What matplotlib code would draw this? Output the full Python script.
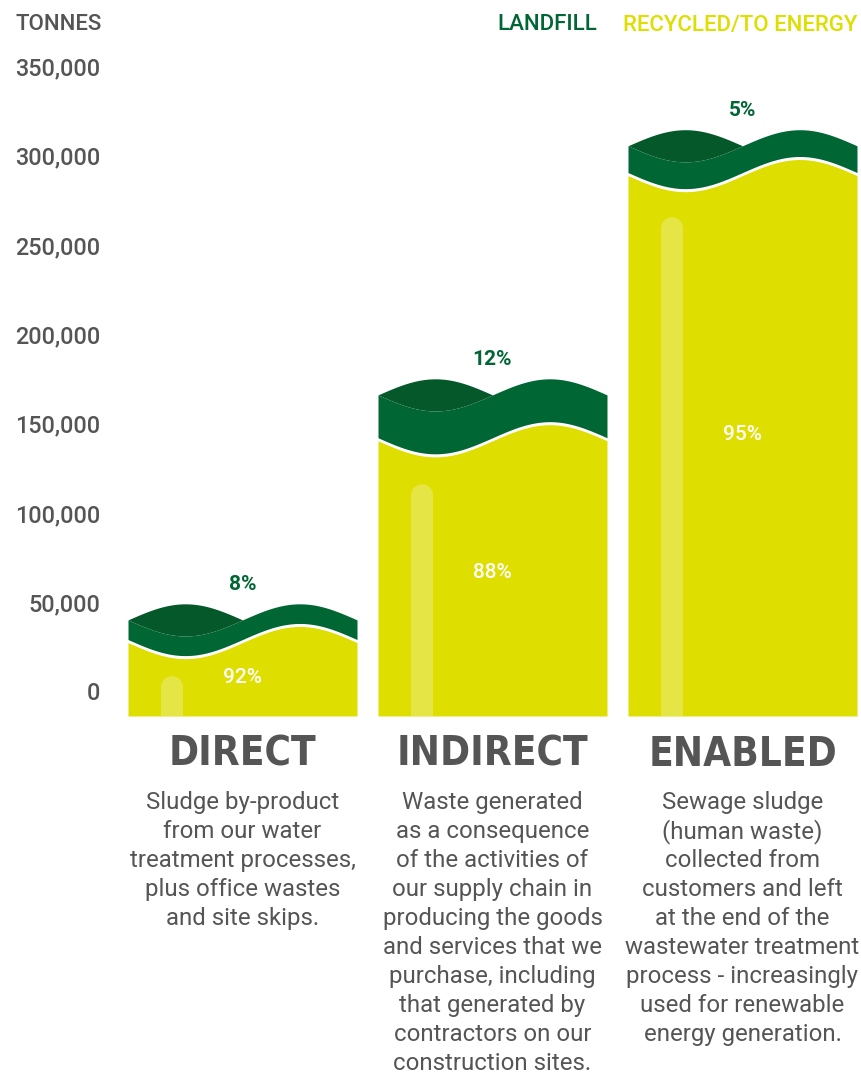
import numpy as np
import matplotlib
matplotlib.use("Agg")
import matplotlib.pyplot as plt
from matplotlib import transforms
from matplotlib.patches import Rectangle, Ellipse

# data (tonnes)
categories = ["DIRECT", "INDIRECT", "ENABLED"]
total_t = [41500, 167500, 307000]        # level of the wave at bar edges / centre
landfill_band_t = [11000, 24000, 15000]  # drawn thickness of the landfill band
landfill_pct = ["8%", "12%", "5%"]
recycled_pct = ["92%", "88%", "95%"]
highlight_top_t = [10000, 117500, 267000]
yticks = [0, 50000, 100000, 150000, 200000, 250000, 300000, 350000]
descriptions = [
    ["Sludge by-product", "from our water", "treatment processes,",
     "plus office wastes", "and site skips."],
    ["Waste generated", "as a consequence", "of the activities of",
     "our supply chain in", "producing the goods", "and services that we",
     "purchase, including", "that generated by", "contractors on our",
     "construction sites."],
    ["Sewage sludge", "(human waste)", "collected from", "customers and left",
     "at the end of the", "wastewater treatment", "process - increasingly",
     "used for renewable", "energy generation."],
]

GREEN = "#006633"
GREEN_DARK = "#04582a"
YELLOW = "#dede00"
YELLOW_HI = "#e5e545"
GREY = "#555555"

W, H = 861, 1077
T_PER_PX = 560.0            # tonnes per pixel
FLOOR = -12300              # bars start a little below the zero label
WAVE = 9000                 # wave amplitude
GAP = 1700                  # white gap between landfill and recycled
BAR_W = 0.916

fig = plt.figure(figsize=(W / 100, H / 100), dpi=100)
ax = fig.add_axes([0, 0, 1, 1])
ax.set_xlim(-242.5 / 250, (W - 242.5) / 250)
ax.set_ylim((694 - H) * T_PER_PX, 694 * T_PER_PX)
ax.axis("off")

x_fig = transforms.blended_transform_factory(fig.transFigure, ax.transData)
y_fig = transforms.blended_transform_factory(ax.transData, fig.transFigure)

def fy(px):
    return 1 - px / H

s = np.linspace(-1, 1, 400)
for i, cat in enumerate(categories):
    x = i + s * BAR_W / 2
    front = total_t[i] + WAVE * np.sin(np.pi * s)
    back = total_t[i] - WAVE * np.sin(np.pi * s)
    left = s <= 0
    # back fold of the ribbon
    ax.fill_between(x[left], front[left], back[left], color=GREEN_DARK, lw=0)
    ax.fill_between(x, front - landfill_band_t[i], front, color=GREEN, lw=0)
    ax.fill_between(x, FLOOR, front - landfill_band_t[i] - GAP, color=YELLOW, lw=0)

    # light highlight stripe
    hx = i - 70.5 / 250
    hw = 22 / 250
    r = 11 * T_PER_PX
    ax.add_patch(Rectangle((hx - hw / 2, FLOOR), hw, highlight_top_t[i] - r - FLOOR,
                           color=YELLOW_HI, lw=0))
    ax.add_patch(Ellipse((hx, highlight_top_t[i] - r), hw, 2 * r, color=YELLOW_HI, lw=0))

    # labels
    ax.text(i, total_t[i] + 35 * T_PER_PX, landfill_pct[i], ha="center", va="center",
            color=GREEN, fontsize=15, fontweight="bold", family="Roboto")
    yellow_top = total_t[i] - landfill_band_t[i] - GAP
    ax.text(i, FLOOR + 0.52 * (yellow_top - FLOOR), recycled_pct[i], ha="center",
            va="center", color="white", fontsize=15, fontweight="medium", family="Roboto")

    ax.text(i, fy(755), cat, transform=y_fig, ha="center", va="center", color=GREY,
            fontsize=29, fontweight="bold", fontstretch="condensed",
            family="DejaVu Sans")
    for k, line in enumerate(descriptions[i]):
        ax.text(i, fy(802 + 29.1 * k), line, transform=y_fig, ha="center", va="center",
                color=GREY, fontsize=17.3, family="Roboto", fontweight="normal")

for v in yticks:
    ax.text(100 / W, v, f"{v:,}", transform=x_fig, ha="right", va="center",
            color=GREY, fontsize=16.8, fontweight="medium", family="Roboto")

fig.text(15 / W, fy(25), "TONNES", ha="left", va="center", color=GREY,
         fontsize=16, fontweight="medium", family="Roboto")
fig.text(857 / W, fy(25), "RECYCLED/TO ENERGY", ha="right", va="center", color=YELLOW,
         fontsize=16, fontweight="medium", family="Roboto")
fig.text(597 / W, fy(25), "LANDFILL", ha="right", va="center", color=GREEN,
         fontsize=16, fontweight="medium", family="Roboto")

fig.savefig("out.png", dpi=100, facecolor="white")
